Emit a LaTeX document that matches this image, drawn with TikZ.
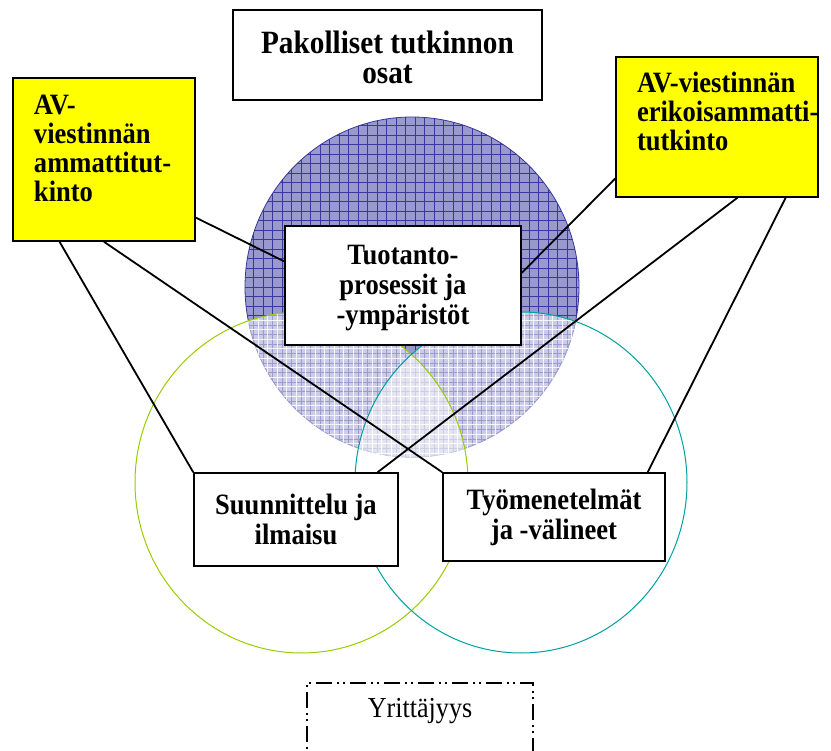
\documentclass[tikz,border=0pt]{standalone}
\usepackage{fontspec}
\setmainfont{Liberation Serif}
\newfontfamily\bx[FakeStretch=0.9]{Liberation Serif}
\usetikzlibrary{calc}
\definecolor{purplefill}{RGB}{153,153,206}
\definecolor{gridblue}{RGB}{55,55,158}
\definecolor{greenring}{RGB}{153,204,0}
\definecolor{tealring}{RGB}{0,160,160}
\definecolor{boxyellow}{RGB}{255,255,0}
\begin{document}
\begin{tikzpicture}[x=1pt,y=-1pt,
  box/.style={draw=black, line width=1.6pt, fill=white, inner sep=0pt, align=center,
    font=\bx\fontsize{29.5}{30}\selectfont\bfseries},
  ybox/.style={box, fill=boxyellow, font=\bx\fontsize{29.5}{29}\selectfont\bfseries},
  dotbox/.style={draw=black, line width=1.6pt, fill=white, inner sep=0pt,
    dash pattern=on 16pt off 5pt on 2pt off 4pt on 2pt off 5pt,
    font=\bx\fontsize{29}{30}\selectfont},
  conn/.style={draw=black, line width=1.8pt},
  gridline/.style={gridblue, line width=0.45pt},
  whiteline/.style={white, line width=0.8pt, opacity=0.85},
]
\useasboundingbox (0,0) rectangle (831,751);
\clip (0,0) rectangle (831,751);

% purple circle with grid
\fill[purplefill] (412,287) ellipse [x radius=167, y radius=170];
\begin{scope}
  \clip (412,287) ellipse [x radius=167, y radius=170];
  \foreach \i in {0,...,37} {
    \draw[gridline] (244+\i*9.5, 110) -- (244+\i*9.5, 462);
    \draw[gridline] (240, 116+\i*9.5) -- (585, 116+\i*9.5);
  }
\end{scope}
\draw[gridblue, line width=0.8pt] (412,287) ellipse [x radius=167, y radius=170];
% lighter overlap regions
\begin{scope}
  \clip (412,287) ellipse [x radius=167.5, y radius=170.5];
  \fill[white, opacity=0.5] (301.5,482.5) ellipse [x radius=166.5, y radius=170.5];
  \fill[white, opacity=0.5] (521,482.5) ellipse [x radius=166, y radius=170.5];
  \begin{scope}
    \clip (301.5,482.5) ellipse [x radius=166.5, y radius=170.5];
    \foreach \i in {0,...,37} {
      \draw[whiteline] (248.75+\i*9.5, 110) -- (248.75+\i*9.5, 462);
      \draw[whiteline] (240, 120.75+\i*9.5) -- (585, 120.75+\i*9.5);
    }
  \end{scope}
  \begin{scope}
    \clip (521,482.5) ellipse [x radius=166, y radius=170.5];
    \foreach \i in {0,...,37} {
      \draw[whiteline] (248.75+\i*9.5, 110) -- (248.75+\i*9.5, 462);
      \draw[whiteline] (240, 120.75+\i*9.5) -- (585, 120.75+\i*9.5);
    }
  \end{scope}
\end{scope}
% rings
\draw[greenring, line width=1pt] (301.5,482.5) ellipse [x radius=166.5, y radius=170.5];
\draw[tealring, line width=1pt] (521,482.5) ellipse [x radius=166, y radius=170.5];

% boxes
\node[box, minimum width=309, minimum height=90, font=\bx\fontsize{32.5}{30}\selectfont\bfseries]
  (title) at (387.5,55) {\rule{0pt}{28pt}Pakolliset tutkinnon\\osat};
\node[ybox, minimum width=182, minimum height=163] (avl) at (104,159.5)
  {\parbox[c][163pt][t]{140pt}{\raggedright\rule{0pt}{37pt}AV-\\viestinnän\\ammattitut-\\kinto}};
\node[ybox, minimum width=202, minimum height=140] (ave) at (717,127)
  {\parbox[c][140pt][t]{160pt}{\raggedright\rule{0pt}{36pt}\mbox{AV-viestinnän}\\\mbox{erikoisammatti-}\\\mbox{tutkinto}}};
\node[box, minimum width=236, minimum height=119] (tuo) at (403,285.5)
  {\rule{0pt}{24pt}Tuotanto-\\prosessit ja\\-ympäristöt};
\node[box, minimum width=204, minimum height=93] (suu) at (296,519.5)
  {Suunnittelu ja\\ilmaisu};
\node[box, minimum width=222, minimum height=88] (tyo) at (554,517)
  {Työmenetelmät\\ja -välineet};
\node[dotbox, minimum width=226, minimum height=117] (yri) at (420,741.5)
  {\parbox[c][117pt][t]{226pt}{\centering\rule{0pt}{34pt}Yrittäjyys}};

% connectors
\draw[conn] ($(avl.north east)!0.853!(avl.south east)$) -- ($(tuo.north west)!0.30!(tuo.south west)$);
\draw[conn] ($(avl.south west)!0.258!(avl.south east)$) -- (suu.north west);
\draw[conn] (avl.south) -- (tyo.north west);
\draw[conn] ($(ave.north west)!0.864!(ave.south west)$) -- ($(tuo.north east)!0.395!(tuo.south east)$);
\draw[conn] ($(ave.south west)!0.60!(ave.south east)$) -- ($(suu.north west)!0.897!(suu.north east)$);
\draw[conn] ($(ave.south west)!0.837!(ave.south east)$) -- ($(tyo.north west)!0.919!(tyo.north east)$);
\end{tikzpicture}
\end{document}
